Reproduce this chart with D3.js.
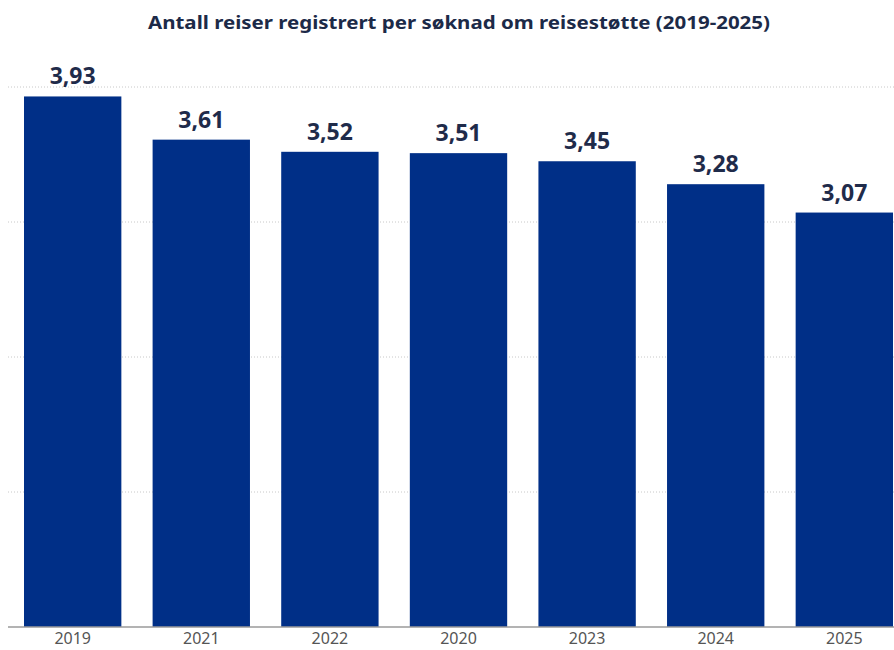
<!DOCTYPE html>
<html><head><meta charset="utf-8">
<script src="https://cdn.jsdelivr.net/npm/d3@7"></script>
<style>body{margin:0;background:#fff}svg{display:block}</style>
</head><body>
<script>
const title = "Antall reiser registrert per søknad om reisestøtte (2019-2025)";
const categories = ["2019","2021","2022","2020","2023","2024","2025"];
const values = [3.93,3.61,3.52,3.51,3.45,3.28,3.07];
const gridTicks = [1,2,3,4];

const W=894,H=650;
const svg=d3.select("body").append("svg").attr("width",W).attr("height",H);
const x=d3.scaleBand().domain(categories).range([24,893]).paddingInner(0.243).paddingOuter(0);
const y=d3.scaleLinear().domain([0,4]).range([627,87]);

svg.append("text").attr("x",459).attr("y",29).attr("text-anchor","middle")
  .attr("font-family","Noto Sans").attr("font-weight","bold").attr("font-size",18)
  .attr("fill","#1c2a48").attr("textLength",622).attr("lengthAdjust","spacingAndGlyphs").text(title);

svg.append("g").selectAll("line").data(gridTicks).join("line")
  .attr("x1",8).attr("x2",W).attr("y1",d=>y(d)).attr("y2",d=>y(d))
  .attr("stroke","#c8c8c8").attr("stroke-width",1).attr("stroke-dasharray","1,2");

svg.append("g").selectAll("rect").data(values).join("rect")
  .attr("x",(d,i)=>x(categories[i])).attr("width",x.bandwidth())
  .attr("y",d=>y(d)).attr("height",d=>y(0)-y(d)).attr("fill","#002f87");

svg.append("g").selectAll("text").data(values).join("text")
  .attr("x",(d,i)=>x(categories[i])+x.bandwidth()/2).attr("y",d=>y(d)-12)
  .attr("text-anchor","middle").attr("font-family","Noto Sans").attr("font-weight","bold")
  .attr("font-size",23).attr("fill","#1f2b4a").text(d=>d.toFixed(2).replace(".",","));

svg.append("line").attr("x1",8).attr("x2",W).attr("y1",y(0)).attr("y2",y(0))
  .attr("stroke","#9a9a9a").attr("stroke-width",1.5);

const ax=d3.axisBottom(x).tickSize(0).tickPadding(6);
const g=svg.append("g").attr("transform",`translate(0,${y(0)})`).call(ax);
g.select(".domain").remove();
g.selectAll("text").attr("font-family","Noto Sans").attr("font-size",16).attr("fill","#555");
</script>
</body></html>
